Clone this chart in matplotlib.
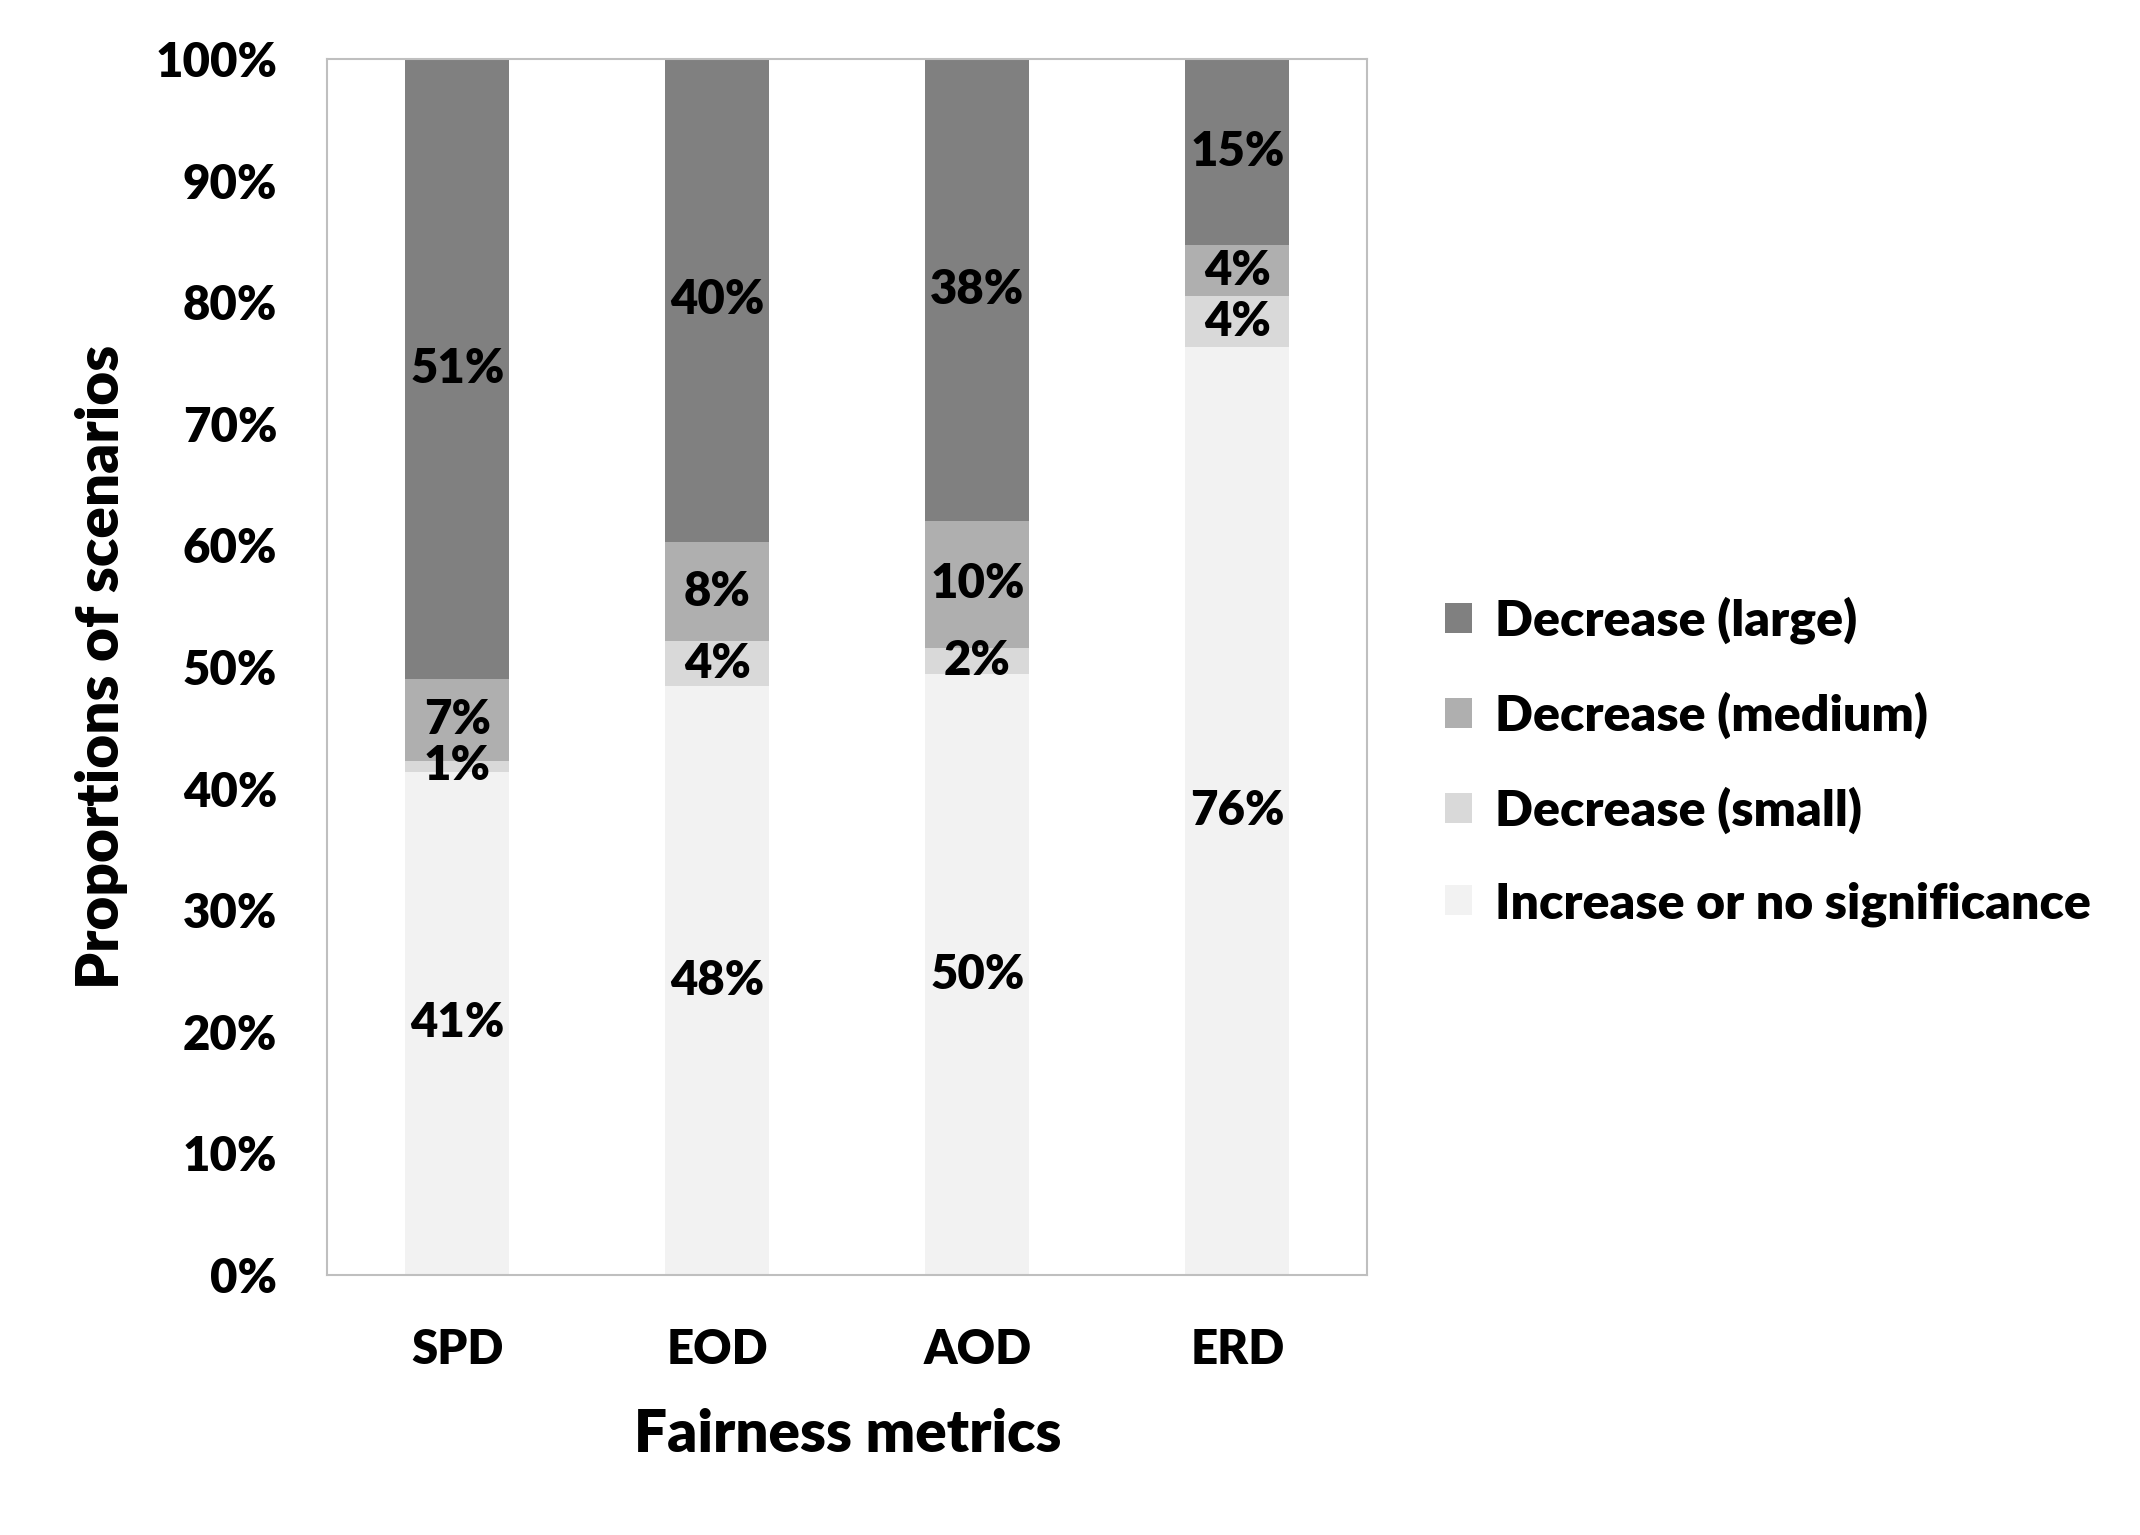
import numpy as np
import matplotlib
matplotlib.use("Agg")
import matplotlib.pyplot as plt
from matplotlib.ticker import PercentFormatter

plt.rcParams['font.family'] = ['Lato', 'DejaVu Sans']
plt.rcParams['font.weight'] = 'heavy'

# datos (porcentajes)
metrics = ['SPD', 'EOD', 'AOD', 'ERD']
increase = [41.4, 48.4, 49.4, 76.3]
dec_small = [0.9, 3.7, 2.2, 4.2]
dec_medium = [6.7, 8.2, 10.4, 4.2]
dec_large = [51.0, 39.7, 38.0, 15.3]
labels_inc = ['41%', '48%', '50%', '76%']
labels_small = ['1%', '4%', '2%', '4%']
labels_medium = ['7%', '8%', '10%', '4%']
labels_large = ['51%', '40%', '38%', '15%']

series = [
    ('Increase or no significance', increase, labels_inc, '#f2f2f2'),
    ('Decrease (small)', dec_small, labels_small, '#d9d9d9'),
    ('Decrease (medium)', dec_medium, labels_medium, '#afafaf'),
    ('Decrease (large)', dec_large, labels_large, '#808080'),
]

FW = 'heavy'

fig = plt.figure(figsize=(21.4, 15.35), dpi=100)
ax = fig.add_axes([0.153, 0.1694, 0.486, 0.7922])

x = np.arange(len(metrics))
bottom = np.zeros(len(metrics))
handles = []
for name, vals, labs, col in series:
    vals = np.array(vals)
    b = ax.bar(x, vals, 0.4, bottom=bottom, color=col, label=name)
    handles.append(b)
    for xi, yb, v, t in zip(x, bottom, vals, labs):
        ax.text(xi, yb + v / 2, t, ha='center', va='center',
                fontsize=34, fontweight=FW, color='black')
    bottom = bottom + vals

ax.set_xlim(-0.5, 3.5)
ax.set_ylim(0, 100)
ax.set_yticks(np.arange(0, 101, 10))
ax.yaxis.set_major_formatter(PercentFormatter(decimals=0))
ax.set_xticks(x)
ax.set_xticklabels(metrics)
ax.tick_params(axis='both', length=0, labelsize=34)
ax.tick_params(axis='y', pad=36)
ax.tick_params(axis='x', pad=38)
for lbl in ax.get_xticklabels() + ax.get_yticklabels():
    lbl.set_fontweight(FW)
for s in ax.spines.values():
    s.set_color('#bfbfbf')
    s.set_linewidth(1.5)

ax.set_xlabel('Fairness metrics', fontsize=42, fontweight=FW, labelpad=26)
ax.set_ylabel('Proportions of scenarios', fontsize=42, fontweight=FW, labelpad=20)

leg = fig.legend(handles[::-1], [h.get_label() for h in handles[::-1]],
                 loc='center left', bbox_to_anchor=(0.654, 0.504),
                 frameon=False, handlelength=0.55, handleheight=0.55,
                 handletextpad=0.45, labelspacing=0.95,
                 prop={'size': 36, 'weight': FW})

fig.savefig('out.png', dpi=100)
